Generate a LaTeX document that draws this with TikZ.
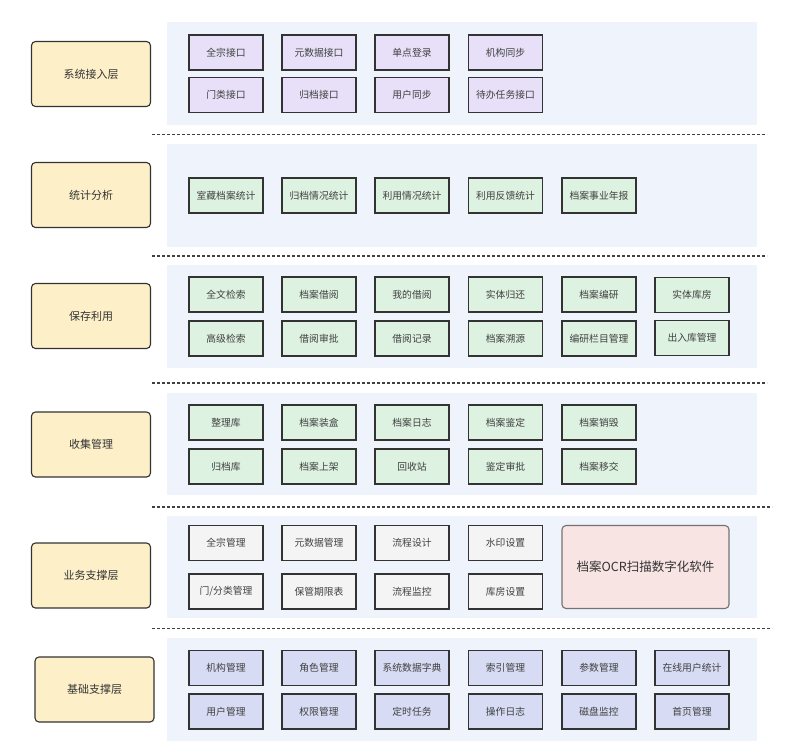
\documentclass[tikz,border=0pt]{standalone}
\usepackage{fontspec}
\setmainfont{Noto Sans CJK SC}
\begin{document}
\begin{tikzpicture}[x=1pt,y=-1pt,
  lbl/.style={draw=black!80,line width=1.1pt,rounded corners=4pt,fill=lblfill,
    minimum width=119pt,minimum height=65pt,inner sep=0pt,text=black!80,font=\fontsize{11}{13}\selectfont},
  item/.style={draw=black!80,line width=1.2pt,minimum width=74pt,minimum height=35pt,
    inner sep=0pt,text=black!75,font=\fontsize{9.8}{12}\selectfont},
  pitem/.style={item,fill=pfill},
  gitem/.style={item,fill=gfill},
  witem/.style={item,fill=wfill},
  bitem/.style={item,fill=bfill},
  panel/.style={fill=panelfill,draw=none},
  sep/.style={draw=black!75,line width=1.2pt,dash pattern=on 3pt off 2pt}]
\definecolor{lblfill}{HTML}{FDF0C9}
\definecolor{pfill}{HTML}{E7E0F8}
\definecolor{gfill}{HTML}{DDF2E0}
\definecolor{wfill}{HTML}{F4F4F4}
\definecolor{bfill}{HTML}{D7DBF3}
\definecolor{panelfill}{HTML}{EEF3FC}
\definecolor{ocrfill}{HTML}{F9E4E4}
\useasboundingbox (0,0) rectangle (799,755);
\fill[white] (0,0) rectangle (799,755);
% panels
\path[panel] (167,22) rectangle (757,125);
\path[panel] (167,144) rectangle (757,247);
\path[panel] (167,265) rectangle (757,368);
\path[panel] (167,393) rectangle (757,495);
\path[panel] (167,516) rectangle (757,618);
\path[panel] (167,638) rectangle (757,741);
% separators
\coordinate (s1a) at (152,134.5); \coordinate (s1b) at (767,134.5);
\coordinate (s2a) at (152,256); \coordinate (s2b) at (767,256);
\coordinate (s3a) at (152,383); \coordinate (s3b) at (767,383);
\coordinate (s4a) at (152,507); \coordinate (s4b) at (772,507);
\coordinate (s5a) at (152,628.5); \coordinate (s5b) at (772,628.5);
\draw[sep] (s1a) -- (s1b);
\draw[sep] (s2a) -- (s2b);
\draw[sep] (s3a) -- (s3b);
\draw[sep] (s4a) -- (s4b);
\draw[sep] (s5a) -- (s5b);
% layer labels
\node[lbl] (L1) at (91,74) {系统接入层};
\node[lbl] (L2) at (91,195) {统计分析};
\node[lbl] (L3) at (91,316) {保存利用};
\node[lbl] (L4) at (91,444.5) {收集管理};
\node[lbl] (L5) at (91,575.5) {业务支撑层};
\node[lbl] (L6) at (94.5,689.5) {基础支撑层};
% layer 1
\node[pitem] (a11) at (226,52.5) {全宗接口};
\node[pitem] (a12) at (319,52.5) {元数据接口};
\node[pitem] (a13) at (412,52.5) {单点登录};
\node[pitem] (a14) at (505.5,52.5) {机构同步};
\node[pitem] (a21) at (226,95) {门类接口};
\node[pitem] (a22) at (319,95) {归档接口};
\node[pitem] (a23) at (412,95) {用户同步};
\node[pitem] (a24) at (505.5,95) {待办任务接口};
% layer 2
\node[gitem] (b1) at (226,195.5) {室藏档案统计};
\node[gitem] (b2) at (319,195.5) {归档情况统计};
\node[gitem] (b3) at (412,195.5) {利用情况统计};
\node[gitem] (b4) at (505.5,195.5) {利用反馈统计};
\node[gitem] (b5) at (599,195.5) {档案事业年报};
% layer 3
\node[gitem] (c11) at (226,294.5) {全文检索};
\node[gitem] (c12) at (319,294.5) {档案借阅};
\node[gitem] (c13) at (412,294.5) {我的借阅};
\node[gitem] (c14) at (505.5,294.5) {实体归还};
\node[gitem] (c15) at (599,294.5) {档案编研};
\node[gitem] (c16) at (692,295) {实体库房};
\node[gitem] (c21) at (226,338.5) {高级检索};
\node[gitem] (c22) at (319,338.5) {借阅审批};
\node[gitem] (c23) at (412,338.5) {借阅记录};
\node[gitem] (c24) at (505.5,338.5) {档案溯源};
\node[gitem] (c25) at (599,338.5) {编研栏目管理};
\node[gitem] (c26) at (692,338) {出入库管理};
% layer 4
\node[gitem] (d11) at (226,422.5) {整理库};
\node[gitem] (d12) at (319,422.5) {档案装盒};
\node[gitem] (d13) at (412,422.5) {档案日志};
\node[gitem] (d14) at (505.5,422.5) {档案鉴定};
\node[gitem] (d15) at (599,422.5) {档案销毁};
\node[gitem] (d21) at (226,466.5) {归档库};
\node[gitem] (d22) at (319,466.5) {档案上架};
\node[gitem] (d23) at (412,466.5) {回收站};
\node[gitem] (d24) at (505.5,466.5) {鉴定审批};
\node[gitem] (d25) at (599,466.5) {档案移交};
% layer 5
\node[witem] (e11) at (226,543) {全宗管理};
\node[witem] (e12) at (319,543) {元数据管理};
\node[witem] (e13) at (412,543) {流程设计};
\node[witem] (e14) at (505.5,543) {水印设置};
\node[witem] (e21) at (226,591.5) {门/分类管理};
\node[witem] (e22) at (319,591.5) {保管期限表};
\node[witem] (e23) at (412,591.5) {流程监控};
\node[witem] (e24) at (505.5,591.5) {库房设置};
\node[draw=black!55,line width=1.1pt,rounded corners=4pt,fill=ocrfill,minimum width=167pt,
  minimum height=83pt,inner sep=0pt,text=black!80,font=\fontsize{12.5}{15}\selectfont]
  (ocr) at (645.5,567) {档案OCR扫描数字化软件};
% layer 6
\node[bitem] (f11) at (226,668) {机构管理};
\node[bitem] (f12) at (319,668) {角色管理};
\node[bitem] (f13) at (412,668) {系统数据字典};
\node[bitem] (f14) at (505.5,668) {索引管理};
\node[bitem] (f15) at (599,668) {参数管理};
\node[bitem] (f16) at (692,668) {在线用户统计};
\node[bitem] (f21) at (226,711.5) {用户管理};
\node[bitem] (f22) at (319,711.5) {权限管理};
\node[bitem] (f23) at (412,711.5) {定时任务};
\node[bitem] (f24) at (505.5,711.5) {操作日志};
\node[bitem] (f25) at (599,711.5) {磁盘监控};
\node[bitem] (f26) at (692,711.5) {首页管理};
\end{tikzpicture}
\end{document}
